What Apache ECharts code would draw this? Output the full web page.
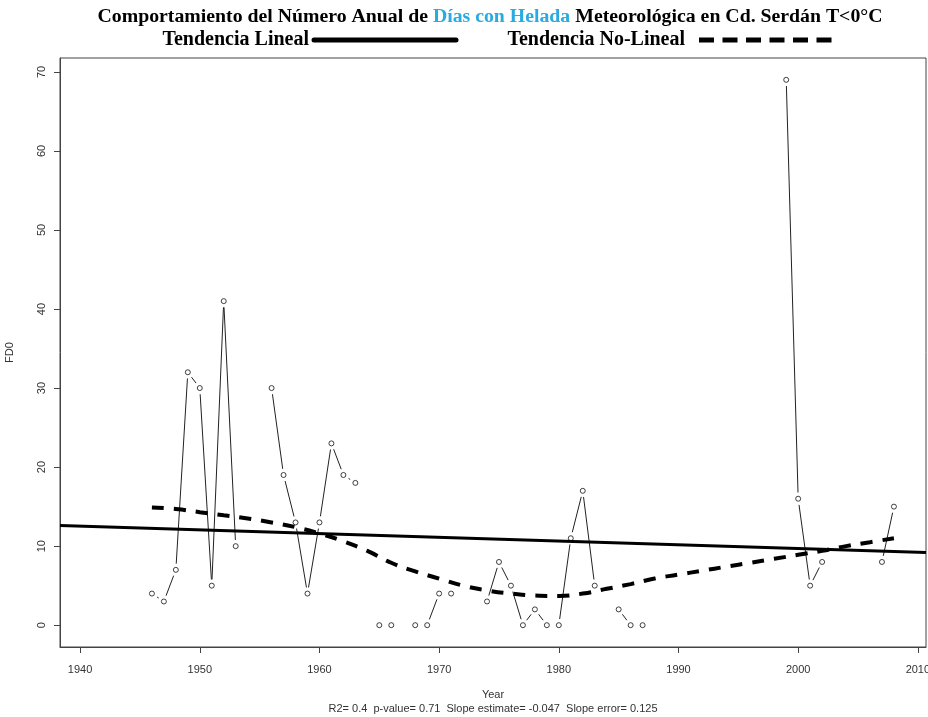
<!DOCTYPE html>
<html>
<head>
<meta charset="utf-8">
<script src="https://cdn.jsdelivr.net/npm/echarts@6/dist/echarts.min.js"></script>
<style>html,body{margin:0;padding:0;background:#fff}#c{width:928px;height:717px}</style>
</head>
<body>
<div id="c"></div>
<script>
// ---- data ----
const years = [1946,1947,1948,1949,1950,1951,1952,1953,1956,1957,1958,1959,1960,1961,1962,1963,1965,1966,1968,1969,1970,1971,1974,1975,1976,1977,1978,1979,1980,1981,1982,1983,1985,1986,1987,1999,2000,2001,2002,2007,2008];
const fd0   = [4,3,7,32,30,5,41,10,30,19,13,4,13,23,19,18,0,0,0,0,4,4,3,8,5,0,2,0,0,11,17,5,2,0,0,69,16,5,8,8,15];

const linYears = [1938.32, 2010.68];
const linValues = [12.6, 9.2];

const nlYears = [1946,1948,1950,1952,1954,1956,1958,1960,1962,1964,1966,1968,1970,1972,1974,1976,1978,1980,1982,1984,1986,1988,1990,1992,1994,1996,1998,2000,2002,2004,2006,2008];
const nlValues = [14.9,14.7,14.3,13.9,13.5,13.0,12.4,11.6,10.6,9.4,7.9,6.8,5.9,5.0,4.4,4.0,3.75,3.7,4.0,4.6,5.2,5.9,6.4,6.9,7.4,7.9,8.4,8.9,9.4,10.0,10.5,11.0];

const xTicks = [1940,1950,1960,1970,1980,1990,2000,2010];
const yTicks = [0,10,20,30,40,50,60,70];

const titleA = 'Comportamiento del Número Anual de ';
const titleB = 'Días con Helada';
const titleC = ' Meteorológica en Cd. Serdán T<0°C';
const legendLin = 'Tendencia Lineal';
const legendNl = 'Tendencia No-Lineal';
const xName = 'Year';
const yName = 'FD0';
const subText = 'R2= 0.4  p-value= 0.71  Slope estimate= -0.047  Slope error= 0.125';

// ---- derived ----
const points = years.map((y, i) => [y, fd0[i]]);
const segs = [];
for (let i = 1; i < years.length; i++) {
  if (years[i] - years[i-1] === 1) segs.push([years[i-1], fd0[i-1], years[i], fd0[i]]);
}
const GAP = 6.2;

const chart = echarts.init(document.getElementById('c'), null, {renderer: 'canvas'});
const axisFont = 'Liberation Sans, Arial, sans-serif';
const serif = 'Liberation Serif, Times New Roman, serif';
const fmt = v => String(v);

chart.setOption({
  animation: false,
  backgroundColor: '#fff',
  grid: {left: 60, top: 58, right: 2, bottom: 70, show: true, borderColor: '#444', borderWidth: 1, containLabel: false, outerBoundsMode: 'none'},
  xAxis: {
    type: 'value', min: 1938.32, max: 2010.68,
    name: xName, nameLocation: 'middle', nameGap: 42,
    nameTextStyle: {fontFamily: axisFont, fontSize: 11, color: '#333'},
    axisLine: {show: true, onZero: false, lineStyle: {color: '#444', width: 1}},
    splitLine: {show: false},
    axisTick: {show: true, inside: false, length: 6, lineStyle: {color: '#444'}, customValues: xTicks},
    axisLabel: {fontFamily: axisFont, fontSize: 11, color: '#333', margin: 17, customValues: xTicks, formatter: fmt}
  },
  yAxis: {
    type: 'value', min: -2.76, max: 71.76,
    name: yName, nameLocation: 'middle', nameGap: 45, nameRotate: 90,
    nameTextStyle: {fontFamily: axisFont, fontSize: 11, color: '#333'},
    axisLine: {show: true, onZero: false, lineStyle: {color: '#444', width: 1}},
    splitLine: {show: false},
    axisTick: {show: true, inside: false, length: 6, lineStyle: {color: '#444'}, customValues: yTicks},
    axisLabel: {fontFamily: axisFont, fontSize: 11, color: '#333', margin: 13, rotate: 90, customValues: yTicks, formatter: fmt}
  },
  graphic: [
    {type: 'text', x: 490, y: 17, style: {
      text: '{a|' + titleA + '}{b|' + titleB + '}{a|' + titleC + '}',
      align: 'center', verticalAlign: 'middle',
      rich: {
        a: {fontFamily: serif, fontWeight: 'bold', fontSize: 19.8, fill: '#000'},
        b: {fontFamily: serif, fontWeight: 'bold', fontSize: 19.8, fill: '#29abe2'}
      }
    }},
    {type: 'text', x: 309, y: 40, style: {text: legendLin, align: 'right', verticalAlign: 'middle', fontFamily: serif, fontWeight: 'bold', fontSize: 20, fill: '#000'}},
    {type: 'line', shape: {x1: 314, y1: 40, x2: 456, y2: 40}, style: {stroke: '#000', lineWidth: 5, lineCap: 'round'}},
    {type: 'text', x: 685, y: 40, style: {text: legendNl, align: 'right', verticalAlign: 'middle', fontFamily: serif, fontWeight: 'bold', fontSize: 20, fill: '#000'}},
    {type: 'line', shape: {x1: 699, y1: 40, x2: 832, y2: 40}, style: {stroke: '#000', lineWidth: 5, lineDash: [15, 8.5]}},
    {type: 'text', x: 493, y: 709, style: {text: subText, align: 'center', verticalAlign: 'middle', fontFamily: axisFont, fontSize: 11, fill: '#333'}}
  ],
  series: [
    {
      type: 'custom', name: 'seg', data: segs,
      encode: {x: [0, 2], y: [1, 3]},
      renderItem: function (params, api) {
        const p1 = api.coord([api.value(0), api.value(1)]);
        const p2 = api.coord([api.value(2), api.value(3)]);
        const dx = p2[0] - p1[0], dy = p2[1] - p1[1];
        const L = Math.hypot(dx, dy);
        if (L <= 2 * GAP) return null;
        const ux = dx / L, uy = dy / L;
        return {type: 'line', shape: {x1: p1[0] + ux * GAP, y1: p1[1] + uy * GAP, x2: p2[0] - ux * GAP, y2: p2[1] - uy * GAP},
          style: {stroke: '#222', lineWidth: 1}};
      },
      z: 2
    },
    {
      type: 'scatter', data: points, symbol: 'circle', symbolSize: 5,
      itemStyle: {color: '#fff', borderColor: '#111', borderWidth: 1}, z: 3
    },
    {
      type: 'line', data: linYears.map((y, i) => [y, linValues[i]]), symbol: 'none',
      lineStyle: {color: '#000', width: 3}, z: 4
    },
    {
      type: 'line', data: nlYears.map((y, i) => [y, nlValues[i]]), symbol: 'none', smooth: true,
      lineStyle: {color: '#000', width: 4, type: [12, 10]}, z: 4
    }
  ]
});
</script>
</body>
</html>
